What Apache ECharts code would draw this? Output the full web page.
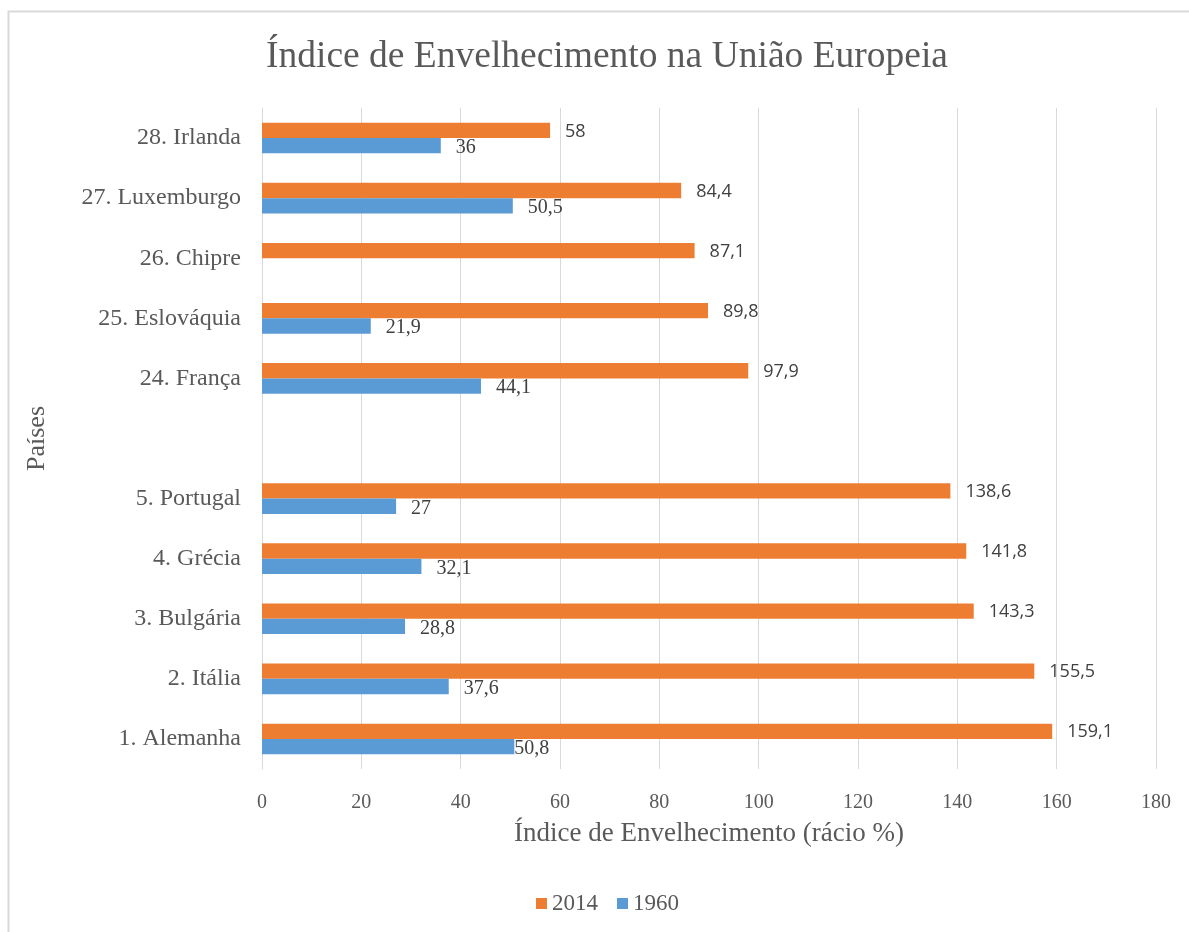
<!DOCTYPE html>
<html>
<head>
<meta charset="utf-8">
<script src="https://cdn.jsdelivr.net/npm/echarts@6/dist/echarts.min.js"></script>
<style>html,body{margin:0;padding:0;background:#fff;}#c{width:1189px;height:932px;}</style>
</head>
<body>
<div id="c"></div>
<script>
const categories = ['1. Alemanha','2. Itália','3. Bulgária','4. Grécia','5. Portugal','','24. França','25. Eslováquia','26. Chipre','27. Luxemburgo','28. Irlanda'];
const values2014 = [159.1,155.5,143.3,141.8,138.6,null,97.9,89.8,87.1,84.4,58];
const values1960 = [50.8,37.6,28.8,32.1,27,null,44.1,21.9,null,50.5,36];
const xTicks = [0,20,40,60,80,100,120,140,160,180];

const serif = '"Liberation Serif", "Times New Roman", serif';
const txt = '#595959';
const fmt = p => String(p.value).replace('.', ',');

// the first 1960 label sits right against its bar in the reference
const data1960 = values1960.map((v, i) => i === 0 ? {value: v, label: {offset: [-15, 2]}} : v);

const chart = echarts.init(document.getElementById('c'), null, {renderer: 'canvas'});
chart.setOption({
  animation: false,
  backgroundColor: '#fff',
  graphic: [{
    type: 'rect', silent: true, z: -10,
    shape: {x: 8.5, y: 11.5, width: 1300, height: 1000},
    style: {fill: '#fff', stroke: '#d9d9d9', lineWidth: 2}
  }],
  title: {
    text: 'Índice de Envelhecimento na União Europeia',
    left: 261, top: 33,
    textStyle: {fontFamily: serif, fontSize: 37.5, fontWeight: 'normal', color: txt}
  },
  legend: {
    data: ['2014','1960'],
    left: 536, top: 892, padding: 0,
    itemWidth: 11, itemHeight: 11, itemGap: 19,
    icon: 'rect',
    textStyle: {fontFamily: serif, fontSize: 23, color: txt}
  },
  grid: {left: 262, right: 33, top: 108, bottom: 163, containLabel: false},
  xAxis: {
    type: 'value', min: 0, max: 180, interval: 20,
    name: 'Índice de Envelhecimento (rácio %)',
    nameLocation: 'middle', nameGap: 51,
    nameTextStyle: {fontFamily: serif, fontSize: 27, color: txt},
    axisLine: {show: false}, axisTick: {show: false},
    axisLabel: {fontFamily: serif, fontSize: 20, color: txt, margin: 24,
      formatter: v => xTicks.includes(v) ? String(v) : ''},
    splitLine: {show: true, lineStyle: {color: '#d9d9d9', width: 1}}
  },
  yAxis: {
    type: 'category', data: categories,
    name: 'Países', nameLocation: 'middle', nameGap: 212, nameRotate: 90,
    nameTextStyle: {fontFamily: serif, fontSize: 26, color: txt},
    axisLine: {show: true, lineStyle: {color: '#d9d9d9', width: 1}},
    axisTick: {show: false},
    axisLabel: {fontFamily: serif, fontSize: 24, color: txt, margin: 21}
  },
  series: [
    {
      name: '2014', type: 'bar', data: values2014,
      barGap: '0%', barCategoryGap: '49%',
      itemStyle: {color: '#ED7D31'},
      label: {show: true, position: 'right', distance: 15, formatter: fmt,
        fontFamily: '"Open Sans", "Noto Sans", sans-serif', fontSize: 18, color: '#404040', offset: [0, 1]}
    },
    {
      name: '1960', type: 'bar', data: data1960,
      itemStyle: {color: '#5B9BD5'},
      label: {show: true, position: 'right', distance: 15, formatter: fmt,
        fontFamily: serif, fontSize: 20, color: '#404040', offset: [0, 2]}
    }
  ]
});
</script>
</body>
</html>
